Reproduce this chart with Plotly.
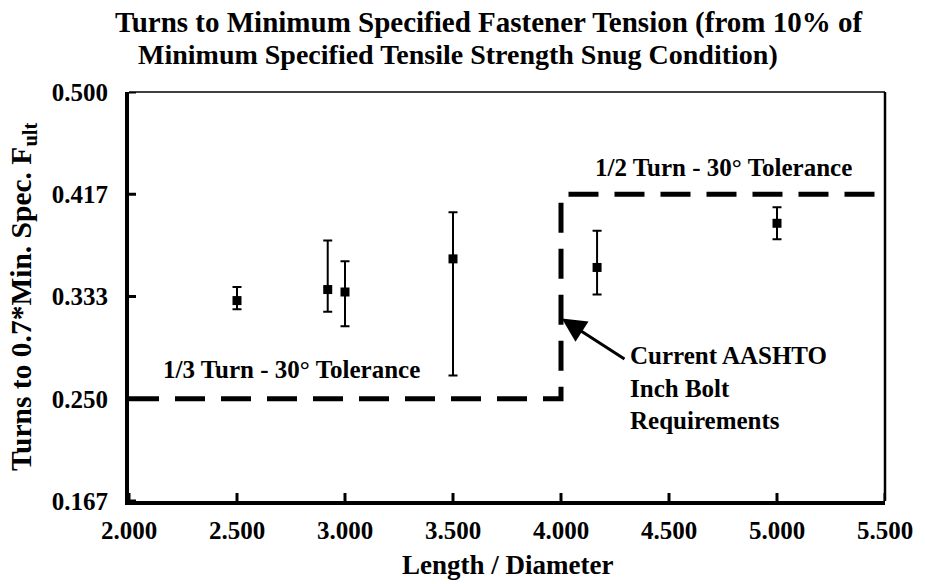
import plotly.graph_objects as go

# Measured turn values vs. grip length ratio
length_ratio = [2.5, 2.92, 3.0, 3.5, 4.167, 5.0]
turns_mean = [0.330, 0.339, 0.337, 0.364, 0.357, 0.393]
turns_high = [0.341, 0.379, 0.362, 0.402, 0.387, 0.406]
turns_low = [0.323, 0.321, 0.309, 0.269, 0.335, 0.380]

# Current AASHTO requirement envelope (1/3 turn up to L/D = 4, 1/2 turn beyond)
req_x = [2.0, 4.0, 4.0, 5.5]
req_y = [0.25, 0.25, 5 / 12, 5 / 12]

x_ticks = [2.0, 2.5, 3.0, 3.5, 4.0, 4.5, 5.0, 5.5]
y_ticks = [1 / 6, 0.25, 1 / 3, 5 / 12, 0.5]
y_tick_text = ["0.167", "0.250", "0.333", "0.417", "0.500"]

FONT = "Liberation Serif"

err_plus = [h - m for h, m in zip(turns_high, turns_mean)]
err_minus = [m - l for m, l in zip(turns_mean, turns_low)]

fig = go.Figure()

fig.add_trace(go.Scatter(
    x=req_x, y=req_y, mode="lines",
    line=dict(color="black", width=5, dash="30px,16px"),
    hoverinfo="skip", showlegend=False,
))

fig.add_trace(go.Scatter(
    x=length_ratio, y=turns_mean, mode="markers",
    marker=dict(symbol="square", size=9, color="black"),
    error_y=dict(type="data", symmetric=False, array=err_plus,
                 arrayminus=err_minus, color="black", thickness=2, width=4.5),
    showlegend=False,
))

# Cross-style tick marks on both axes
shapes = []
for yv in y_ticks:
    shapes.append(dict(type="line", xref="x", yref="y", xsizemode="pixel",
                       xanchor=2.0, x0=-7, x1=7, y0=yv, y1=yv,
                       line=dict(color="black", width=3)))
for xv in x_ticks:
    shapes.append(dict(type="line", xref="x", yref="y", ysizemode="pixel",
                       yanchor=1 / 6, y0=-8, y1=8, x0=xv, x1=xv,
                       line=dict(color="black", width=3)))
# Thin top and right frame lines
shapes.append(dict(type="line", xref="paper", yref="paper", x0=0, x1=1, y0=1, y1=1,
                   line=dict(color="black", width=1.5)))
shapes.append(dict(type="line", xref="paper", yref="paper", x0=1, x1=1, y0=0, y1=1,
                   line=dict(color="black", width=2.5)))

TXT = dict(family=FONT, size=25, color="black")

annotations = [
    # chart title, two lines
    dict(x=0.4757, y=1.171, xref="paper", yref="paper", xanchor="center", yanchor="middle",
         text="<b>Turns to Minimum Specified Fastener Tension (from 10% of</b>",
         showarrow=False, font=dict(family=FONT, size=29, color="black")),
    dict(x=0.435, y=1.0905, xref="paper", yref="paper", xanchor="center", yanchor="middle",
         text="<b>Minimum Specified Tensile Strength Snug Condition)</b>",
         showarrow=False, font=dict(family=FONT, size=28, color="black")),
    # axis titles
    dict(x=0.5, y=-0.156, xref="paper", yref="paper", xanchor="center", yanchor="middle",
         text="<b>Length / Diameter</b>", showarrow=False,
         font=dict(family=FONT, size=27, color="black")),
    dict(x=-0.141, y=0.5, xref="paper", yref="paper", xanchor="center", yanchor="middle",
         textangle=-90, text="<b>Turns to 0.7*Min. Spec. F<sub>ult</sub></b>", showarrow=False,
         font=dict(family=FONT, size=29.5, color="black")),
    # tolerance labels
    dict(x=2.75, y=0.2735, xref="x", yref="y", text="<b>1/3 Turn - 30° Tolerance</b>",
         showarrow=False, font=TXT),
    dict(x=4.75, y=0.4385, xref="x", yref="y", text="<b>1/2 Turn - 30° Tolerance</b>",
         showarrow=False, font=TXT),
    # pointer to the requirement step
    dict(x=4.0, y=0.3158, xref="x", yref="y", text="", showarrow=True,
         ax=65, ay=42, arrowhead=2, arrowsize=1.6, arrowwidth=3, arrowcolor="black",
         standoff=1),
    dict(x=4.31, y=0.2585, xref="x", yref="y", xanchor="left",
         text="<b>Current AASHTO<br>Inch Bolt<br>Requirements</b>", align="left",
         showarrow=False, font=TXT),
]

fig.update_layout(
    width=925, height=584,
    margin=dict(l=129, r=35, t=92, b=83),
    paper_bgcolor="white", plot_bgcolor="white",
    font=dict(family=FONT, color="black"),
    xaxis=dict(
        range=[2.0, 5.5], tickvals=x_ticks, ticktext=[f"{v:.3f}" for v in x_ticks],
        showgrid=False, zeroline=False, showline=True, linecolor="black", linewidth=4,
        ticks="", ticklabelstandoff=4,
        tickfont=dict(family=FONT, size=25, color="black", weight="bold"),
    ),
    yaxis=dict(
        range=[1 / 6, 0.5], tickvals=y_ticks, ticktext=y_tick_text,
        showgrid=False, zeroline=False, showline=True, linecolor="black", linewidth=4,
        ticks="", ticklabelstandoff=12,
        tickfont=dict(family=FONT, size=25, color="black", weight="bold"),
    ),
    shapes=shapes,
    annotations=annotations,
)

fig.write_html("out.html")
